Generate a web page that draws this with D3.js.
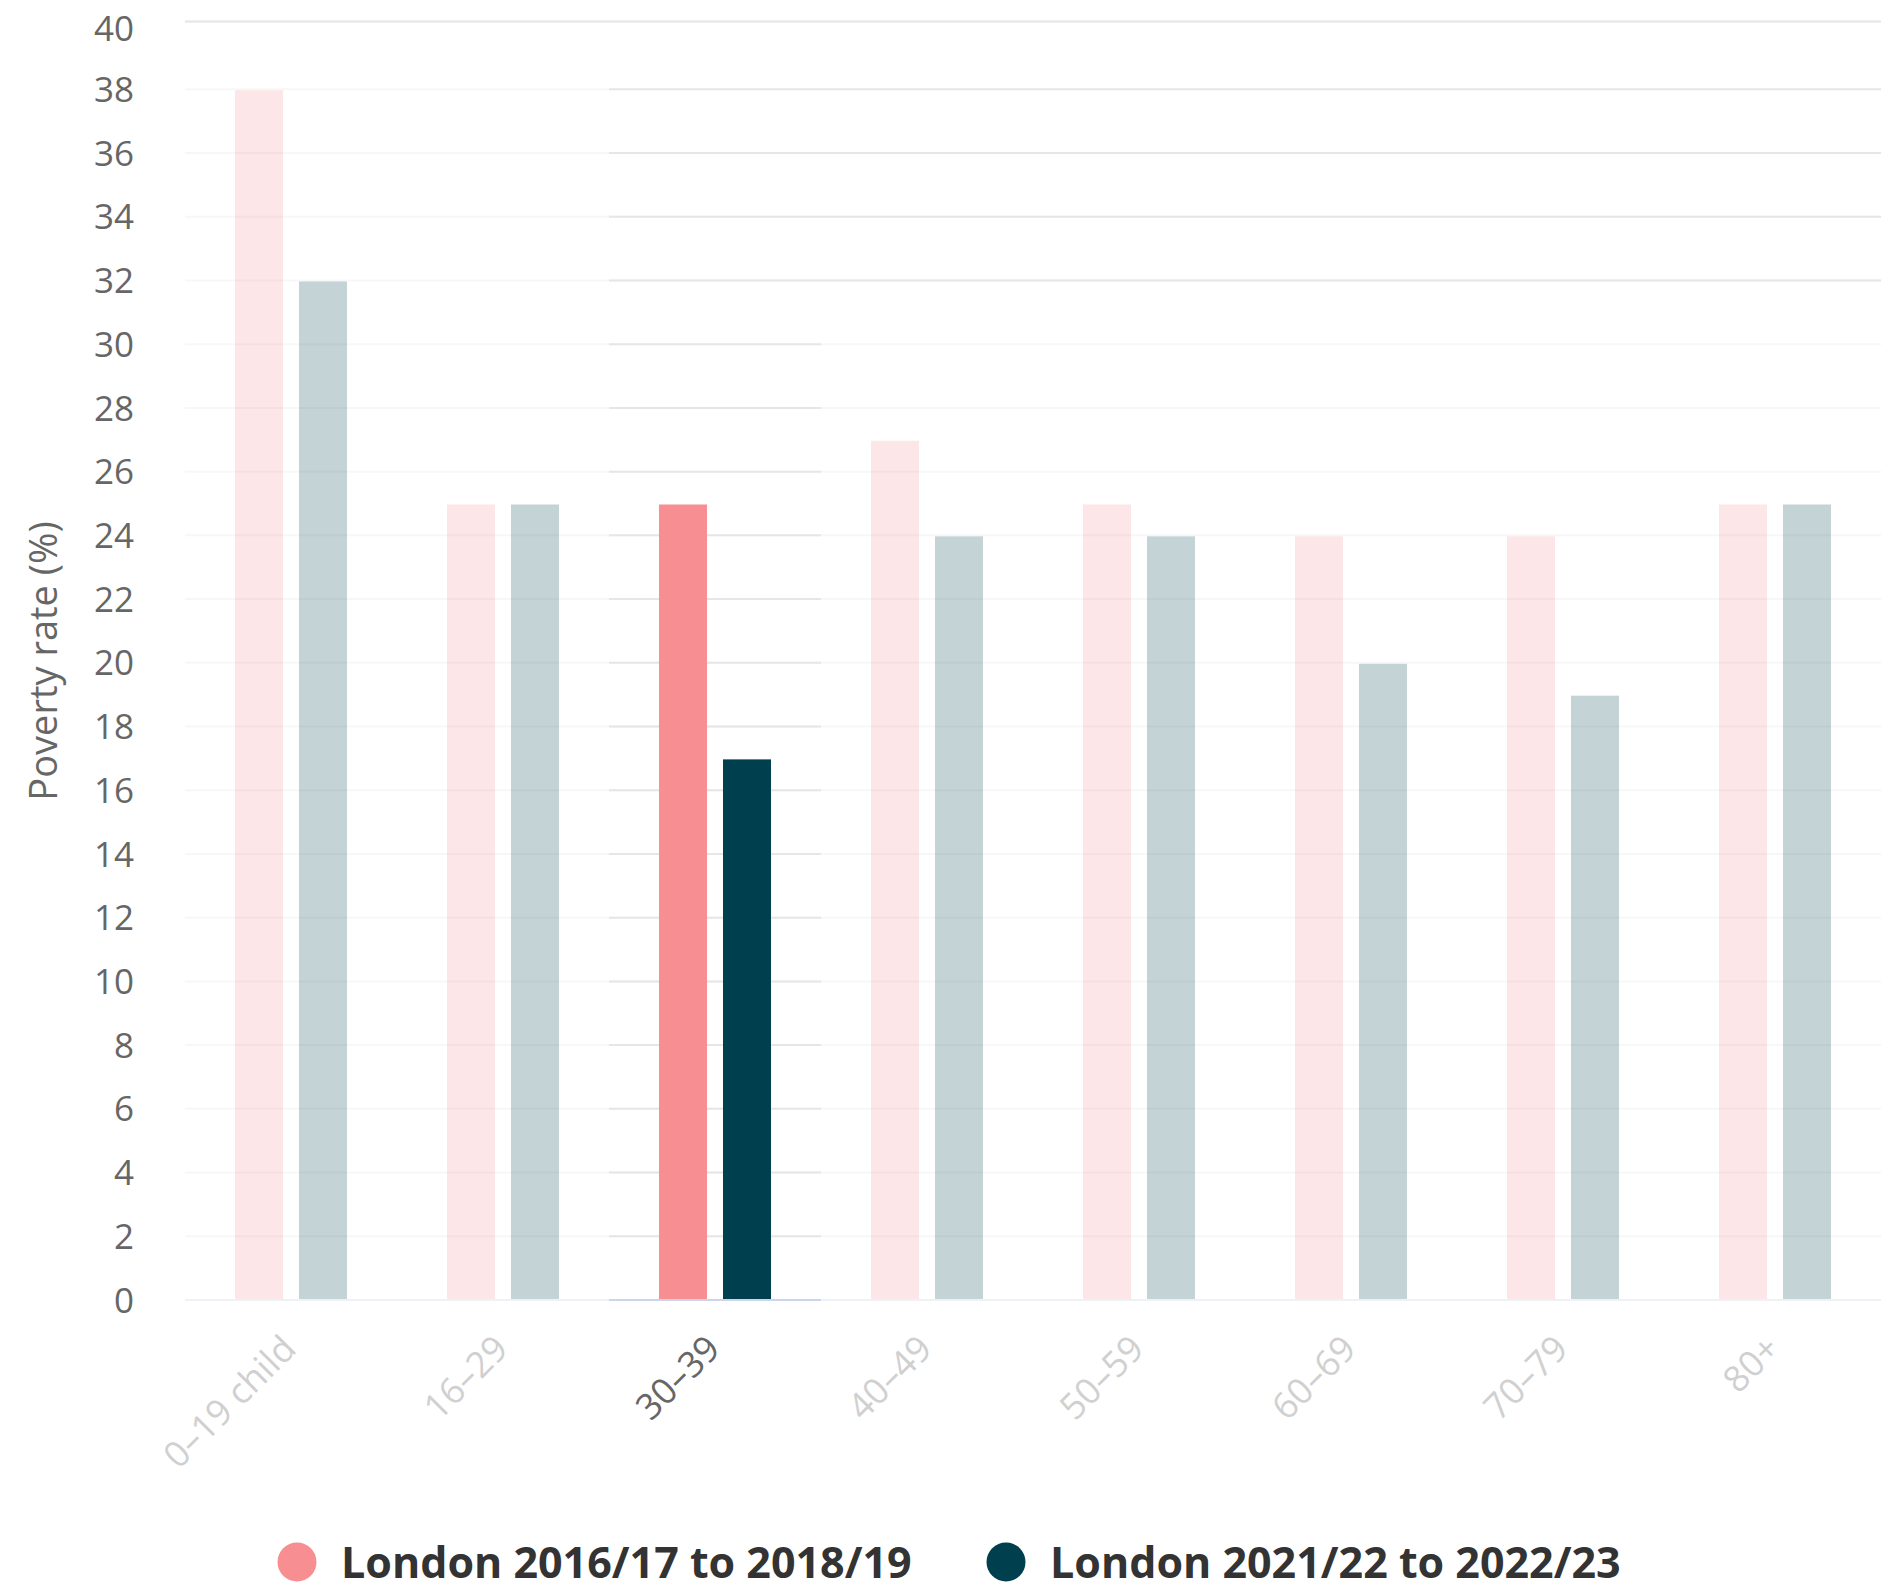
<!DOCTYPE html>
<html>
<head>
<meta charset="utf-8">
<script src="https://cdn.jsdelivr.net/npm/d3@7"></script>
<style>
  body { margin: 0; background: #fff; }
  svg { display: block; font-family: "Open Sans", sans-serif; }
</style>
</head>
<body>
<div id="chart"></div>
<script>
var categories = ["0\u201319 child", "16\u201329", "30\u201339", "40\u201349", "50\u201359", "60\u201369", "70\u201379", "80+"];
var seriesNames = ["London 2016/17 to 2018/19", "London 2021/22 to 2022/23"];
var seriesColors = ["#f78e91", "#003f4d"];
var london2016 = [38, 25, 25, 27, 25, 24, 24, 25];
var london2021 = [32, 25, 17, 24, 24, 20, 19, 25];
var yTicks = [0, 2, 4, 6, 8, 10, 12, 14, 16, 18, 20, 22, 24, 26, 28, 30, 32, 34, 36, 38, 40];
var hovered = "30\u201339";

var width = 1884;
var height = 1585;
var plotLeft = 185, plotRight = 1881, plotTop = 25.6, plotBottom = 1300;

var svg = d3.select("#chart").append("svg")
    .attr("width", width)
    .attr("height", height);

var x = d3.scaleBand().domain(categories).range([plotLeft, plotRight]).padding(0);
var bw = x.bandwidth();
var xs = d3.scaleBand().domain([0, 1])
    .range([bw / 2 - 56, bw / 2 + 56])
    .paddingInner(0.25).paddingOuter(0);
var y = d3.scaleLinear().domain([0, 40]).range([plotBottom, plotTop]);

var hx0 = x(hovered), hx1 = x(hovered) + bw;

// top grid line sits on the plot edge, a little above the 40 mark
function gridY(d) { return d == 40 ? y(d) - 4 : y(d); }

// faint grid everywhere, darker where the hover band left it
var grid = svg.append("g");
grid.selectAll("line.faint")
    .data(yTicks.filter(function (d) { return d > 0; }))
    .enter().append("line")
    .attr("x1", plotLeft).attr("x2", plotRight)
    .attr("y1", gridY)
    .attr("y2", gridY)
    .attr("stroke", "#f7f7f7").attr("stroke-width", 2);

grid.selectAll("line.dark")
    .data(yTicks.filter(function (d) { return d > 0; }))
    .enter().append("line")
    .attr("x1", function (d) { return d == 40 ? plotLeft : hx0; })
    .attr("x2", function (d) { return d >= 32 ? plotRight : hx1; })
    .attr("y1", gridY)
    .attr("y2", gridY)
    .attr("stroke", "#e6e6e6").attr("stroke-width", 2);

// x axis line
svg.append("line")
    .attr("x1", plotLeft).attr("x2", plotRight)
    .attr("y1", y(0)).attr("y2", y(0))
    .attr("stroke", "#eef2f7").attr("stroke-width", 2);
svg.append("line")
    .attr("x1", hx0).attr("x2", hx1)
    .attr("y1", y(0)).attr("y2", y(0))
    .attr("stroke", "#ccd6eb").attr("stroke-width", 2);

// bars
var series = [london2016, london2021];
series.forEach(function (vals, s) {
    svg.append("g").selectAll("rect")
        .data(vals)
        .enter().append("rect")
        .attr("x", function (d, i) { return x(categories[i]) + xs(s); })
        .attr("width", xs.bandwidth())
        .attr("y", function (d) { return y(d) + 1; })
        .attr("height", function (d) { return y(0) - y(d) - 2; })
        .attr("fill", seriesColors[s])
        .attr("opacity", function (d, i) { return categories[i] == hovered ? 1 : (s == 0 ? 0.22 : 0.23); });
});

// y axis labels
svg.append("g").selectAll("text")
    .data(yTicks)
    .enter().append("text")
    .attr("x", 134)
    .attr("y", function (d) { return y(d) + (d == 40 ? 3 : 0); })
    .attr("dy", "0.36em")
    .attr("text-anchor", "end")
    .attr("fill", "#666666")
    .style("font-size", "35px")
    .text(function (d) { return d; });

svg.append("text")
    .attr("transform", "translate(57,661) rotate(-90)")
    .attr("text-anchor", "middle")
    .attr("fill", "#666666")
    .style("font-size", "38px")
    .text("Poverty rate (%)");

// x axis labels
svg.append("g").selectAll("text")
    .data(categories)
    .enter().append("text")
    .attr("transform", function (d) {
        return "translate(" + (x(d) + bw / 2 + 7) + "," + 1351 + ") rotate(-45)";
    })
    .attr("text-anchor", "end")
    .attr("fill", "#666666")
    .attr("opacity", function (d) { return d == hovered ? 1 : 0.3; })
    .style("font-size", "36px")
    .text(function (d) { return d; });

// legend
var legendX = [297, 1006];
var legend = svg.append("g").selectAll("g")
    .data(seriesNames)
    .enter().append("g")
    .attr("transform", function (d, i) { return "translate(" + legendX[i] + ",1562)"; });
legend.append("circle")
    .attr("r", 19.5)
    .attr("fill", function (d, i) { return seriesColors[i]; });
legend.append("text")
    .attr("x", 44)
    .attr("y", 16)
    .attr("fill", "#333333")
    .style("font-size", "43px")
    .style("font-weight", "bold")
    .text(function (d) { return d; });
</script>
</body>
</html>
